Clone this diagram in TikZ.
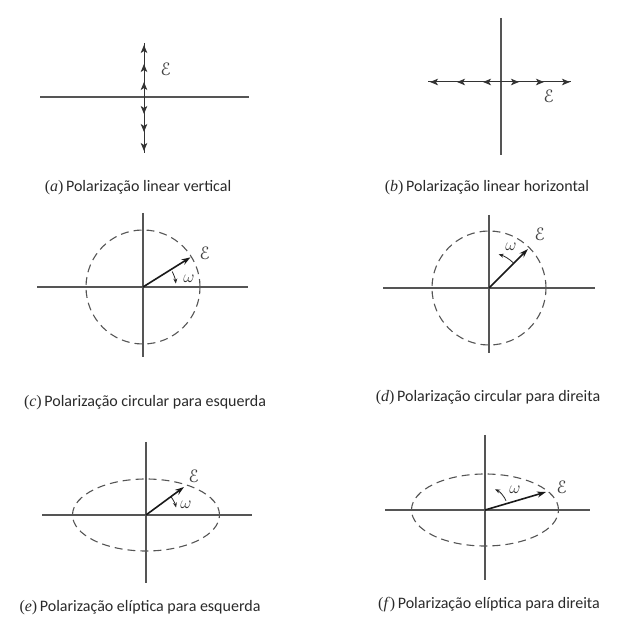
\documentclass[tikz,border=0pt]{standalone}
\usepackage{fontspec}
\setmainfont{Carlito}
\newfontfamily\capserif{Liberation Serif}
\usepackage[mathscr]{eucal}
\usetikzlibrary{arrows.meta,calc}
\definecolor{axisgray}{HTML}{555555}
\definecolor{textgray}{HTML}{2A2A2A}
\tikzset{
  axis/.style={draw=axisgray, line width=1.1pt},
  ring/.style={draw=axisgray, line width=1.1pt, dash pattern=on 8pt off 5pt},
  vec/.style={draw=black!90, line width=1.6pt, -{Stealth[length=9pt,width=6pt]}},
  osc/.style={draw=black!80, line width=1pt, -{Stealth[length=8pt,width=6.5pt,inset=2pt]}},
  rot/.style={draw=black!85, line width=0.8pt, -{Stealth[length=5pt,width=4pt]}},
  caption/.style={anchor=center, inner sep=0pt, text=textgray, font=\fontsize{16}{18}\selectfont},
  sym/.style={inner sep=0pt, text=black!75, font=\fontsize{18}{20}\selectfont},
  omg/.style={inner sep=0pt, text=black!80, font=\fontsize{17}{19}\selectfont},
}
\newcommand{\plab}[1]{{\capserif(\textit{#1})}\,}
\begin{document}
\begin{tikzpicture}[x=1pt,y=1pt]
\useasboundingbox (0,0) rectangle (617,625);
% ---------- (a) ----------
\coordinate (ac) at (144,528);
\coordinate (al) at (40,528);
\coordinate (ar) at (249,528);
\draw[axis] (al) -- (ar);
\coordinate (au1) at (144,543);
\coordinate (au2) at (144,561);
\coordinate (au3) at (144,580);
\coordinate (atop) at (144,582);
\coordinate (ad1) at (144,511);
\coordinate (ad2) at (144,493);
\coordinate (ad3) at (144,474);
\coordinate (abot) at (144,472);
\draw[draw=black!80, line width=1pt] (atop) -- (abot);
\draw[osc] (ac) -- (au1);
\draw[osc] (au1) -- (au2);
\draw[osc] (au2) -- (au3);
\draw[osc] (ac) -- (ad1);
\draw[osc] (ad1) -- (ad2);
\draw[osc] (ad2) -- (ad3);
\node[sym] (aE) at (166,556) {$\mathscr{E}$};
\node[caption] (acap) at (138,437) {\plab{a}Polarização linear vertical};
% ---------- (b) ----------
\coordinate (bc) at (501,543);
\coordinate (bt) at (501,607);
\coordinate (bb) at (501,470);
\draw[axis] (bt) -- (bb);
\coordinate (bl0) at (428,543);
\coordinate (br0) at (571,543);
\coordinate (bl1) at (483,543);
\coordinate (bl2) at (457,543);
\coordinate (bl3) at (430,543);
\coordinate (br1) at (519,543);
\coordinate (br2) at (544,543);
\coordinate (br3) at (570,543);
\draw[draw=black!80, line width=1pt] (bl0) -- (br0);
\draw[osc] (bc) -- (bl1);
\draw[osc] (bl1) -- (bl2);
\draw[osc] (bl2) -- (bl3);
\draw[osc] (bc) -- (br1);
\draw[osc] (br1) -- (br2);
\draw[osc] (br2) -- (br3);
\node[sym] (bE) at (549,529) {$\mathscr{E}$};
\node[caption] (bcap) at (487,437) {\plab{b}Polarização linear horizontal};
% ---------- (c) ----------
\coordinate (cc) at (143,338);
\coordinate (cl) at (37,338);
\coordinate (cr) at (248,338);
\coordinate (ct) at (143,412);
\coordinate (cb) at (143,268);
\draw[axis] (cl) -- (cr);
\draw[axis] (ct) -- (cb);
\draw[ring] (cc) circle [radius=57pt];
\coordinate (cv) at ($(cc)+(32:56)$);
\draw[vec] (cc) -- (cv);
\draw[rot] ($(cc)+(28:33)$) arc[start angle=28, end angle=6, radius=33pt];
\node[sym] (cE) at (205,372) {$\mathscr{E}$};
\node[omg] (cw) at (189,346) {$\omega$};
\node[caption] (ccap) at (145,222) {\plab{c}Polarização circular para esquerda};
% ---------- (d) ----------
\coordinate (dc) at (489,337);
\coordinate (dl) at (383,337);
\coordinate (dr) at (595,337);
\coordinate (dt) at (489,410);
\coordinate (db) at (489,272);
\draw[axis] (dl) -- (dr);
\draw[axis] (dt) -- (db);
\draw[ring] (dc) circle [radius=57pt];
\coordinate (dv) at ($(dc)+(45:55)$);
\draw[vec] (dc) -- (dv);
\draw[rot] ($(dc)+(46:35)$) arc[start angle=46, end angle=74, radius=35pt];
\node[sym] (dE) at (540,391) {$\mathscr{E}$};
\node[omg] (dw) at (511,378) {$\omega$};
\node[caption] (dcap) at (488,227) {\plab{d}Polarização circular para direita};
% ---------- (e) ----------
\coordinate (ec) at (146,110);
\coordinate (el) at (42,110);
\coordinate (er) at (252,110);
\coordinate (et) at (146,183);
\coordinate (eb) at (146,42);
\draw[axis] (el) -- (er);
\draw[axis] (et) -- (eb);
\draw[ring] (ec) ellipse [x radius=73.5pt, y radius=36pt];
\coordinate (ev) at (184,138);
\draw[vec] (ec) -- (ev);
\draw[rot] ($(ec)+(36:31)$) arc[start angle=36, end angle=14, radius=31pt];
\node[sym] (eE) at (194,149) {$\mathscr{E}$};
\node[omg] (ew) at (186,120) {$\omega$};
\node[caption] (ecap) at (140,17) {\plab{e}Polarização elíptica para esquerda};
% ---------- (f) ----------
\coordinate (fc) at (485,115);
\coordinate (fl) at (385,115);
\coordinate (fr) at (590,115);
\coordinate (ft) at (485,190);
\coordinate (fb) at (485,45);
\draw[axis] (fl) -- (fr);
\draw[axis] (ft) -- (fb);
\draw[ring] (fc) ellipse [x radius=73.5pt, y radius=36pt];
\coordinate (fv) at (546,133);
\draw[vec] (fc) -- (fv);
\draw[rot] ($(fc)+(24:23)$) arc[start angle=24, end angle=64, radius=23pt];
\node[sym] (fE) at (562,138) {$\mathscr{E}$};
\node[omg] (fw) at (515,135) {$\omega$};
\node[caption] (fcap) at (489,20) {\plab{f}Polarização elíptica para direita};
\end{tikzpicture}
\end{document}
